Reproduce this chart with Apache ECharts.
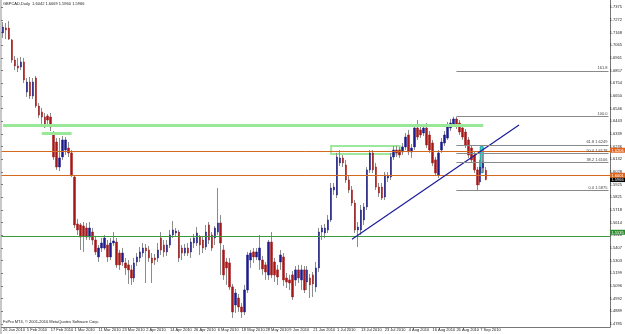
<!DOCTYPE html>
<html>
<head>
<meta charset="UTF-8">
<title>GBPCAD Daily</title>
<script src="https://cdn.jsdelivr.net/npm/echarts@6/dist/echarts.min.js"></script>
<style>
  html, body { margin: 0; padding: 0; background: #fff; }
  #chart { width: 625px; height: 334px; }
</style>
</head>
<body>
<div id="chart"></div>
<script>
// daily bars: [open, close, low, high]
const ohlc = [
  [1.7165,1.7214,1.7124,1.7255],[1.7206,1.7190,1.7116,1.7247],[1.7206,1.7116,1.7108,1.7263],[1.7108,1.6944,1.6920,1.7116],
  [1.6944,1.6895,1.6862,1.6977],[1.6895,1.6879,1.6846,1.6961],[1.6887,1.6928,1.6862,1.6969],[1.6928,1.6781,1.6756,1.6961],
  [1.6682,1.6764,1.6642,1.6797],[1.6764,1.6650,1.6625,1.6805],[1.6650,1.6764,1.6625,1.6797],[1.6797,1.6568,1.6552,1.6813],
  [1.6568,1.6494,1.6470,1.6592],[1.6519,1.6478,1.6421,1.6552],[1.6478,1.6396,1.6388,1.6511],[1.6486,1.6453,1.6404,1.6502],
  [1.6478,1.6396,1.6363,1.6511],[1.6347,1.6151,1.6127,1.6363],[1.6273,1.6069,1.6045,1.6306],[1.6069,1.6143,1.6036,1.6306],
  [1.6151,1.6290,1.6127,1.6322],[1.6208,1.6290,1.6167,1.6314],[1.6224,1.6184,1.6151,1.6273],[1.6184,1.6004,1.5987,1.6208],
  [1.5987,1.5595,1.5570,1.6004],[1.5603,1.5554,1.5513,1.5644],[1.5595,1.5496,1.5390,1.5611],[1.5586,1.5505,1.5374,1.5619],
  [1.5570,1.5496,1.5472,1.5611],[1.5496,1.5570,1.5472,1.5619],[1.5537,1.5472,1.5431,1.5570],[1.5472,1.5374,1.5349,1.5505],
  [1.5333,1.5406,1.5292,1.5431],[1.5406,1.5447,1.5374,1.5488],[1.5406,1.5488,1.5390,1.5513],[1.5431,1.5333,1.5292,1.5472],
  [1.5333,1.5447,1.5308,1.5488],[1.5447,1.5464,1.5423,1.5537],[1.5455,1.5268,1.5243,1.5488],[1.5365,1.5268,1.5227,1.5390],
  [1.5292,1.5365,1.5259,1.5406],[1.5284,1.5243,1.5186,1.5325],[1.5268,1.5227,1.5112,1.5308],[1.5227,1.5161,1.5104,1.5268],
  [1.5161,1.5284,1.5128,1.5325],[1.5292,1.5333,1.5259,1.5365],[1.5325,1.5374,1.5292,1.5415],[1.5365,1.5406,1.5333,1.5447],
  [1.5406,1.5382,1.5120,1.5439],[1.5390,1.5325,1.5292,1.5423],[1.5325,1.5284,1.5120,1.5365],[1.5325,1.5308,1.5268,1.5357],
  [1.5325,1.5390,1.5292,1.5447],[1.5488,1.5390,1.5349,1.5537],[1.5431,1.5374,1.5333,1.5472],[1.5374,1.5431,1.5341,1.5472],
  [1.5431,1.5513,1.5406,1.5554],[1.5513,1.5554,1.5488,1.5627],[1.5529,1.5545,1.5505,1.5570],[1.5537,1.5325,1.5292,1.5554],
  [1.5406,1.5365,1.5308,1.5431],[1.5365,1.5406,1.5341,1.5439],[1.5406,1.5365,1.5341,1.5447],[1.5374,1.5455,1.5325,1.5488],
  [1.5447,1.5488,1.5406,1.5521],[1.5447,1.5529,1.5423,1.5578],[1.5496,1.5431,1.5349,1.5513],[1.5472,1.5406,1.5365,1.5505],
  [1.5415,1.5537,1.5390,1.5595],[1.5595,1.5472,1.5439,1.5619],[1.5513,1.5406,1.5382,1.5537],[1.5488,1.5570,1.5431,1.5586],
  [1.5537,1.5611,1.5513,1.5897],[1.5611,1.5447,1.5186,1.5676],[1.5390,1.5186,1.5145,1.5431],[1.5292,1.5243,1.5104,1.5325],
  [1.5284,1.5088,1.5063,1.5325],[1.5088,1.4883,1.4834,1.5112],[1.4940,1.5038,1.4875,1.5071],[1.4997,1.4924,1.4883,1.5030],
  [1.4924,1.4883,1.4834,1.4956],[1.4883,1.5063,1.4858,1.5104],[1.5063,1.5349,1.5038,1.5374],[1.5308,1.5365,1.5243,1.5390],
  [1.5374,1.5333,1.5284,1.5406],[1.5333,1.5374,1.5308,1.5406],[1.5308,1.5406,1.5227,1.5513],[1.5308,1.5235,1.5186,1.5341],
  [1.5268,1.5210,1.5145,1.5292],[1.5186,1.5455,1.5145,1.5472],[1.5455,1.5186,1.5161,1.5537],[1.5292,1.5186,1.5128,1.5325],
  [1.5227,1.5169,1.5104,1.5268],[1.5292,1.5349,1.5227,1.5390],[1.5333,1.5145,1.5096,1.5365],[1.5161,1.5128,1.5079,1.5202],
  [1.5145,1.5120,1.5063,1.5186],[1.5186,1.5006,1.4981,1.5218],[1.5145,1.5227,1.5096,1.5259],[1.5227,1.5161,1.5120,1.5268],
  [1.5145,1.5227,1.5063,1.5268],[1.5227,1.5063,1.5038,1.5259],[1.5128,1.5227,1.5063,1.5259],[1.5161,1.5104,1.4997,1.5194],
  [1.5186,1.5112,1.5006,1.5210],[1.5088,1.5243,1.5046,1.5292],[1.5243,1.5537,1.5210,1.5570],[1.5537,1.5570,1.5472,1.5595],
  [1.5529,1.5570,1.5488,1.5603],[1.5554,1.5636,1.5529,1.5676],[1.5636,1.5897,1.5619,1.5938],[1.5881,1.5905,1.5840,1.5938],
  [1.5840,1.6151,1.5815,1.6184],[1.6102,1.6143,1.6077,1.6208],[1.6143,1.6102,1.6069,1.6167],[1.6085,1.5963,1.5938,1.6127],
  [1.5963,1.5881,1.5856,1.5995],[1.5881,1.5774,1.5750,1.5914],[1.5774,1.5554,1.5529,1.5799],[1.5554,1.5578,1.5415,1.5619],
  [1.5554,1.5717,1.5513,1.5758],[1.5636,1.5742,1.5595,1.5774],[1.5742,1.6045,1.5717,1.6069],[1.6045,1.6184,1.6020,1.6208],
  [1.6184,1.6045,1.6020,1.6208],[1.6069,1.5905,1.5881,1.6102],[1.5905,1.5856,1.5824,1.5938],[1.5905,1.5815,1.5799,1.5938],
  [1.5824,1.6004,1.5799,1.6028],[1.5979,1.5995,1.5946,1.6028],[1.5987,1.6151,1.5963,1.6184],[1.6151,1.6208,1.6127,1.6241],
  [1.6208,1.6184,1.6151,1.6241],[1.6208,1.6167,1.6143,1.6233],[1.6192,1.6233,1.6167,1.6265],[1.6233,1.6314,1.6208,1.6347],
  [1.6331,1.6192,1.6167,1.6372],[1.6192,1.6224,1.6143,1.6257],[1.6233,1.6388,1.6208,1.6413],[1.6388,1.6314,1.6290,1.6453],
  [1.6372,1.6331,1.6306,1.6404],[1.6347,1.6388,1.6322,1.6421],[1.6388,1.6249,1.6224,1.6429],[1.6331,1.6208,1.6184,1.6363],
  [1.6265,1.6102,1.6077,1.6290],[1.6127,1.6020,1.5995,1.6151],[1.6004,1.6184,1.5979,1.6208],[1.6208,1.6273,1.6184,1.6306],
  [1.6265,1.6331,1.6241,1.6363],[1.6306,1.6396,1.6290,1.6437],[1.6388,1.6429,1.6363,1.6462],[1.6421,1.6462,1.6396,1.6480],
  [1.6462,1.6404,1.6380,1.6478],[1.6429,1.6355,1.6331,1.6453],[1.6388,1.6314,1.6290,1.6413],[1.6355,1.6249,1.6224,1.6380],
  [1.6290,1.6167,1.6143,1.6314],[1.6224,1.6127,1.6102,1.6249],[1.6167,1.6045,1.6020,1.6192],[1.6045,1.5922,1.5875,1.6069],
  [1.5946,1.6069,1.5922,1.6127],[1.6061,1.6110,1.6028,1.6167],[1.6042,1.5966,1.5960,1.6069]
];
const slotCount = 204;   // bars + empty space on the right
const dateStep = 8;
const dateLabels = ['26 Jan 2010','5 Feb 2010','17 Feb 2010','1 Mar 2010','11 Mar 2010','23 Mar 2010','2 Apr 2010',
  '14 Apr 2010','26 Apr 2010','6 May 2010','18 May 2010','28 May 2010','9 Jun 2010','21 Jun 2010','1 Jul 2010',
  '13 Jul 2010','23 Jul 2010','4 Aug 2010','16 Aug 2010','26 Aug 2010','7 Sep 2010'];
const priceTicks = ['1.4785','1.4889','1.4992','1.5096','1.5199','1.5303','1.5407','1.5510','1.5614','1.5718',
  '1.5821','1.5925','1.6028','1.6132','1.6236','1.6339','1.6443','1.6546','1.6650','1.6754','1.6857','1.6961',
  '1.7065','1.7168','1.7272','1.7375'];
const priceMin = 1.4760, priceMax = 1.7435;

// drawn objects
const zoneLine = 1.6413;                 // light green, ends at bar 161
const zoneShort = [12.6, 22.6, 1.6347];  // short light green
const orangeLevels = [1.6206, 1.6001];
const supportLine = 1.5535;
const trendLine = [[117.4, 1.5478], [172.7, 1.6413]];
const fibAnchors = [1.5875, 1.6480];
const fibRatios = [0, 38.2, 50, 61.8, 100, 161.8];
const fibStart = 151.6;
const greenBox = [[109.7, 1.6241], [132.5, 1.6175]];
const cyanBox = [[159.7, 1.6235], [161.3, 1.6022]];

const last = ohlc[ohlc.length - 1];
const lastSlot = slotCount - 1;
const f4 = v => v.toFixed(4);
const tiny = { fontFamily: 'Liberation Sans', fontSize: 4 };

const fibLines = fibRatios.map(r => {
  const p = fibAnchors[0] + (fibAnchors[1] - fibAnchors[0]) * r / 100;
  const txt = r >= 100 ? r.toFixed(1) : r.toFixed(1) + ' ' + f4(p);
  return [
    { coord: [fibStart, p], lineStyle: { color: '#8a8a8a', width: 1, type: 'solid' },
      label: { show: true, position: 'insideEndTop', distance: 1, formatter: txt, color: '#444', ...tiny } },
    { coord: [lastSlot, p] }
  ];
});

// full width levels, their price tags sit on the axis
const levels = [
  { v: supportLine, line: '#3a9a3a', tag: '#2e8b2e', w: 1.2 },
  { v: last[1], line: '#c4c4c4', tag: '#000000', w: 1 },
  { v: orangeLevels[1], line: '#d2691e', tag: '#e0641e', w: 1 },
  { v: orangeLevels[0], line: '#d2691e', tag: '#e0641e', w: 1 }
];
const levelLines = levels.map(l => ({ yAxis: l.v, lineStyle: { color: l.line, width: l.w, type: 'solid' } }));
const levelTags = levels.map(l => ({
  coord: [lastSlot, l.v], symbol: 'rect', symbolSize: [15, 5], symbolOffset: [9, 0],
  itemStyle: { color: l.tag },
  label: { show: true, position: 'inside', formatter: f4(l.v), color: '#fff', offset: [0, 0.5], ...tiny }
}));

const chart = echarts.init(document.getElementById('chart'));
chart.setOption({
  animation: false,
  backgroundColor: '#ffffff',
  title: [
    { text: 'GBPCAD,Daily  ' + [last[0], last[3], last[2], last[1]].map(f4).join(' '),
      left: 3, top: 2, padding: 0, textStyle: { color: '#222', fontWeight: 'normal', ...tiny } },
    { text: 'FxPro MT4, © 2001-2010 MetaQuotes Software Corp.',
      left: 3, top: 320, padding: 0, textStyle: { color: '#222', fontWeight: 'normal', ...tiny } }
  ],
  grid: [
    { left: 1, right: 15, top: 0, bottom: 7 },
    { left: 1, right: 15, top: 7.3, bottom: 10 }
  ],
  xAxis: [
    { type: 'category', gridIndex: 0, data: Array.from({ length: slotCount }, (_, i) => i), boundaryGap: true,
      axisLine: { lineStyle: { color: '#777', width: 1 } },
      axisTick: { length: 2, alignWithLabel: true, lineStyle: { color: '#777' },
        interval: i => i % dateStep === 0 && i / dateStep < dateLabels.length },
      axisLabel: { interval: i => i % dateStep === 0 && i / dateStep < dateLabels.length,
        formatter: (v, i) => dateLabels[i / dateStep] || '', align: 'left', margin: 1, color: '#222', ...tiny },
      splitLine: { show: false } },
    { type: 'value', gridIndex: 1, show: false }
  ],
  yAxis: [
    { type: 'value', gridIndex: 0, position: 'right', min: priceMin, max: priceMax, scale: true,
      axisLine: { show: true, lineStyle: { color: '#777' } }, axisTick: { show: false },
      axisLabel: { show: false }, splitLine: { show: false } },
    { type: 'value', gridIndex: 1, position: 'right', min: 0, max: priceTicks.length - 1, interval: 1,
      axisLine: { show: false }, axisTick: { show: true, length: 2, lineStyle: { color: '#777' } },
      axisLabel: { formatter: v => priceTicks[v] || '', margin: 1, color: '#222', ...tiny },
      splitLine: { show: false } }
  ],
  graphic: [{ type: 'rect', left: 0, top: 0, shape: { width: 2, height: 334 }, style: { fill: '#c8c8c8' } }],
  series: [
    { type: 'candlestick', name: 'wicks', data: ohlc, barWidth: 1, z: 2, silent: true,
      itemStyle: { color: '#8c8c8c', color0: '#8c8c8c', borderColor: '#8c8c8c', borderColor0: '#8c8c8c', borderWidth: 1 },
      markArea: { silent: true, data: [
        [{ coord: cyanBox[0], itemStyle: { color: '#3ad6d6', borderColor: '#1aa0a0', borderWidth: 1 } }, { coord: cyanBox[1] }],
        [{ coord: greenBox[0], itemStyle: { color: 'rgba(0,0,0,0)', borderColor: '#9ee89e', borderWidth: 2 } }, { coord: greenBox[1] }]
      ] } },
    { type: 'candlestick', name: 'bodies', z: 3, silent: true, barWidth: 2,
      data: ohlc.map(d => [d[0], d[1], Math.min(d[0], d[1]), Math.max(d[0], d[1])]),
      itemStyle: { color: '#1b1b8c', color0: '#a51616', borderColor: '#1b1b8c', borderColor0: '#a51616', borderWidth: 0.5 },
      markLine: { silent: true, symbol: 'none', animation: false, label: { show: false },
        data: [
          [{ coord: [0, zoneLine], lineStyle: { color: '#98e898', width: 3, type: 'solid' } }, { coord: [160.8, zoneLine] }],
          [{ coord: [zoneShort[0], zoneShort[2]], lineStyle: { color: '#98e898', width: 3, type: 'solid' } }, { coord: [zoneShort[1], zoneShort[2]] }],
          ...levelLines,
          [{ coord: trendLine[0], lineStyle: { color: '#1c1c9c', width: 1.2, type: 'solid' } }, { coord: trendLine[1] }],
          ...fibLines
        ] },
      markPoint: { silent: true, animation: false, data: levelTags } }
  ]
});
</script>
</body>
</html>
